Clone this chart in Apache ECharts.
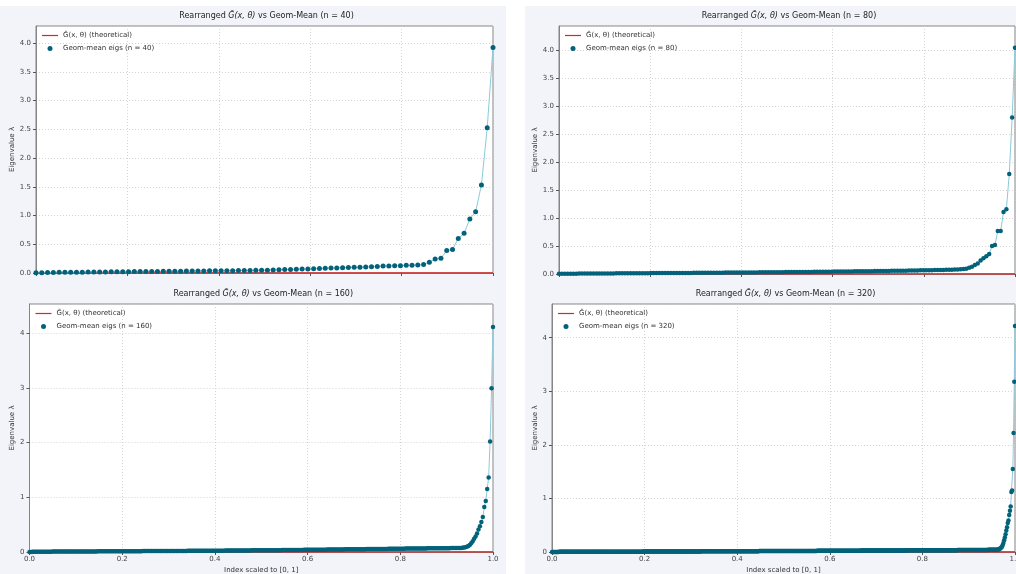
<!DOCTYPE html>
<html><head><meta charset="utf-8">
<script src="https://cdn.jsdelivr.net/npm/echarts@6/dist/echarts.min.js"></script>
<style>
html,body{margin:0;padding:0;background:#ffffff;}
#wrap{position:relative;width:1016px;height:574px;overflow:hidden;}
.bg{position:absolute;background:#f3f4fa;}
#c{position:absolute;left:0;top:0;width:1016px;height:574px;}
</style>
</head><body>
<div id="wrap">
<div class="bg" style="left:0;top:6px;width:506px;height:568px;"></div>
<div class="bg" style="left:525px;top:6px;width:491px;height:568px;"></div>
<div id="c"></div>
</div>
<script>
// ---------------- DATA ----------------
const xTickLabels = ['0.0', '0.2', '0.4', '0.6', '0.8', '1.0'];
const nValues = [40, 80, 160, 320];
const theoreticalX = [0, 1];
const theoreticalY = [0, 0];

const eig40 = [
0.004,0.006,0.008,0.009,0.011,0.012,0.013,0.014,0.015,0.016,
0.017,0.018,0.019,0.020,0.021,0.022,0.023,0.024,0.025,0.026,
0.027,0.028,0.029,0.030,0.031,0.032,0.033,0.034,0.035,0.036,
0.037,0.038,0.039,0.040,0.041,0.042,0.043,0.044,0.046,0.048,
0.050,0.053,0.056,0.059,0.062,0.065,0.068,0.071,0.074,0.078,
0.082,0.086,0.089,0.092,0.095,0.098,0.101,0.104,0.108,0.114,
0.120,0.120,0.127,0.127,0.134,0.134,0.140,0.150,0.186,0.244,
0.255,0.390,0.410,0.600,0.690,0.940,1.068,1.533,2.530,3.925
];

const eig80 = [
0.003,0.004,0.004,0.005,0.005,0.006,0.006,0.007,0.007,0.008,0.008,0.008,0.009,0.009,0.010,0.010,0.010,0.011,0.011,0.011,
0.012,0.012,0.012,0.013,0.013,0.013,0.014,0.014,0.014,0.015,0.015,0.015,0.016,0.016,0.016,0.017,0.017,0.017,0.018,0.018,
0.018,0.019,0.019,0.019,0.020,0.020,0.020,0.021,0.021,0.021,0.022,0.022,0.022,0.023,0.023,0.024,0.024,0.024,0.025,0.025,
0.025,0.026,0.026,0.027,0.027,0.027,0.028,0.028,0.029,0.029,0.030,0.030,0.031,0.031,0.031,0.032,0.032,0.033,0.033,0.034,
0.034,0.035,0.035,0.036,0.036,0.037,0.037,0.038,0.038,0.039,0.039,0.040,0.040,0.041,0.041,0.042,0.043,0.043,0.044,0.044,
0.045,0.046,0.046,0.047,0.048,0.048,0.049,0.050,0.050,0.051,0.052,0.052,0.053,0.054,0.055,0.055,0.056,0.057,0.058,0.059,
0.059,0.060,0.061,0.062,0.063,0.064,0.065,0.066,0.067,0.068,0.069,0.070,0.071,0.072,0.073,0.074,0.075,0.077,0.079,0.081,
0.085,0.090,0.095,0.110,0.130,0.160,0.190,0.240,0.280,0.320,0.360,0.500,0.520,0.770,0.770,1.110,1.160,1.790,2.800,4.050
];

const eig160 = [
0.002,0.002,0.003,0.003,0.003,0.004,0.004,0.004,0.005,0.005,0.005,0.005,0.006,0.006,0.006,0.006,0.007,0.007,0.007,0.007,
0.007,0.008,0.008,0.008,0.008,0.008,0.009,0.009,0.009,0.009,0.009,0.009,0.010,0.010,0.010,0.010,0.010,0.010,0.010,0.011,
0.011,0.011,0.011,0.011,0.011,0.011,0.011,0.012,0.012,0.012,0.012,0.012,0.012,0.012,0.012,0.012,0.013,0.013,0.013,0.013,
0.013,0.013,0.013,0.013,0.014,0.014,0.014,0.014,0.014,0.014,0.014,0.015,0.015,0.015,0.015,0.015,0.015,0.015,0.016,0.016,
0.016,0.016,0.016,0.016,0.016,0.017,0.017,0.017,0.017,0.017,0.017,0.018,0.018,0.018,0.018,0.018,0.018,0.019,0.019,0.019,
0.019,0.019,0.019,0.020,0.020,0.020,0.020,0.020,0.020,0.021,0.021,0.021,0.021,0.021,0.022,0.022,0.022,0.022,0.022,0.022,
0.023,0.023,0.023,0.023,0.023,0.024,0.024,0.024,0.024,0.024,0.025,0.025,0.025,0.025,0.025,0.026,0.026,0.026,0.026,0.026,
0.027,0.027,0.027,0.027,0.028,0.028,0.028,0.028,0.028,0.029,0.029,0.029,0.029,0.030,0.030,0.030,0.030,0.030,0.031,0.031,
0.031,0.031,0.032,0.032,0.032,0.032,0.033,0.033,0.033,0.033,0.034,0.034,0.034,0.034,0.035,0.035,0.035,0.035,0.036,0.036,
0.036,0.036,0.037,0.037,0.037,0.038,0.038,0.038,0.038,0.039,0.039,0.039,0.040,0.040,0.040,0.040,0.041,0.041,0.041,0.042,
0.042,0.042,0.043,0.043,0.043,0.044,0.044,0.044,0.045,0.045,0.045,0.046,0.046,0.046,0.047,0.047,0.047,0.048,0.048,0.048,
0.049,0.049,0.049,0.050,0.050,0.050,0.051,0.051,0.051,0.052,0.052,0.052,0.053,0.053,0.053,0.054,0.054,0.054,0.055,0.055,
0.055,0.056,0.056,0.056,0.057,0.057,0.057,0.058,0.058,0.058,0.059,0.059,0.059,0.060,0.060,0.060,0.061,0.061,0.061,0.062,
0.062,0.062,0.063,0.063,0.063,0.064,0.064,0.064,0.065,0.065,0.065,0.066,0.066,0.066,0.067,0.067,0.067,0.067,0.068,0.068,
0.068,0.068,0.069,0.069,0.069,0.069,0.070,0.070,0.070,0.070,0.071,0.071,0.071,0.072,0.072,0.073,0.074,0.075,0.078,0.081,
0.085,0.095,0.110,0.130,0.160,0.195,0.240,0.285,0.340,0.410,0.470,0.550,0.640,0.820,0.930,1.150,1.360,2.020,2.990,4.110
];

const eig320 = [
0.002,0.002,0.002,0.002,0.002,0.002,0.002,0.002,0.002,0.002,0.003,0.003,0.003,0.003,0.003,0.003,0.003,0.003,0.003,0.003,
0.003,0.003,0.003,0.003,0.003,0.003,0.003,0.003,0.004,0.004,0.004,0.004,0.004,0.004,0.004,0.004,0.004,0.004,0.004,0.004,
0.004,0.004,0.004,0.004,0.004,0.004,0.004,0.004,0.004,0.004,0.004,0.004,0.004,0.004,0.004,0.004,0.004,0.004,0.004,0.004,
0.004,0.004,0.004,0.004,0.004,0.004,0.005,0.005,0.005,0.005,0.005,0.005,0.005,0.005,0.005,0.005,0.005,0.005,0.005,0.005,
0.005,0.005,0.005,0.005,0.005,0.005,0.006,0.006,0.006,0.006,0.006,0.006,0.006,0.006,0.006,0.006,0.006,0.006,0.006,0.006,
0.006,0.006,0.006,0.006,0.006,0.006,0.007,0.007,0.007,0.007,0.007,0.007,0.007,0.007,0.007,0.007,0.007,0.007,0.007,0.007,
0.007,0.007,0.007,0.007,0.007,0.007,0.008,0.008,0.008,0.008,0.008,0.008,0.008,0.008,0.008,0.008,0.008,0.008,0.008,0.008,
0.008,0.008,0.008,0.008,0.008,0.008,0.009,0.009,0.009,0.009,0.009,0.009,0.009,0.009,0.009,0.009,0.009,0.009,0.009,0.009,
0.009,0.009,0.009,0.009,0.009,0.009,0.010,0.010,0.010,0.010,0.010,0.010,0.010,0.010,0.010,0.010,0.010,0.010,0.010,0.010,
0.010,0.010,0.010,0.010,0.010,0.010,0.011,0.011,0.011,0.011,0.011,0.011,0.011,0.011,0.011,0.011,0.011,0.011,0.011,0.011,
0.011,0.011,0.011,0.011,0.011,0.011,0.012,0.012,0.012,0.012,0.012,0.012,0.012,0.012,0.012,0.012,0.012,0.012,0.012,0.012,
0.012,0.012,0.012,0.012,0.012,0.012,0.013,0.013,0.013,0.013,0.013,0.013,0.013,0.013,0.013,0.013,0.013,0.013,0.013,0.013,
0.014,0.014,0.014,0.014,0.014,0.014,0.014,0.014,0.014,0.014,0.015,0.015,0.015,0.015,0.015,0.015,0.015,0.015,0.015,0.015,
0.015,0.015,0.015,0.015,0.015,0.015,0.016,0.016,0.016,0.016,0.016,0.016,0.016,0.016,0.016,0.016,0.016,0.016,0.016,0.016,
0.016,0.016,0.016,0.016,0.016,0.016,0.017,0.017,0.017,0.017,0.017,0.017,0.017,0.017,0.017,0.017,0.017,0.017,0.017,0.017,
0.017,0.017,0.017,0.017,0.017,0.017,0.018,0.018,0.018,0.018,0.018,0.018,0.018,0.018,0.018,0.018,0.018,0.018,0.018,0.018,
0.019,0.019,0.019,0.019,0.019,0.019,0.019,0.019,0.019,0.019,0.020,0.020,0.020,0.020,0.020,0.020,0.020,0.020,0.020,0.020,
0.020,0.020,0.020,0.020,0.020,0.020,0.021,0.021,0.021,0.021,0.021,0.021,0.021,0.021,0.021,0.021,0.021,0.021,0.021,0.021,
0.021,0.021,0.021,0.021,0.021,0.021,0.022,0.022,0.022,0.022,0.022,0.022,0.022,0.022,0.022,0.022,0.022,0.022,0.022,0.022,
0.023,0.023,0.023,0.023,0.023,0.023,0.023,0.023,0.023,0.023,0.024,0.024,0.024,0.024,0.024,0.024,0.024,0.024,0.024,0.024,
0.024,0.024,0.024,0.024,0.024,0.024,0.025,0.025,0.025,0.025,0.025,0.025,0.025,0.025,0.025,0.025,0.025,0.025,0.025,0.025,
0.025,0.025,0.025,0.025,0.025,0.025,0.026,0.026,0.026,0.026,0.026,0.026,0.026,0.026,0.026,0.026,0.026,0.026,0.026,0.026,
0.027,0.027,0.027,0.027,0.027,0.027,0.027,0.027,0.027,0.027,0.028,0.028,0.028,0.028,0.028,0.028,0.028,0.028,0.028,0.028,
0.028,0.028,0.028,0.028,0.028,0.028,0.029,0.029,0.029,0.029,0.029,0.029,0.029,0.029,0.029,0.029,0.029,0.029,0.029,0.029,
0.030,0.030,0.030,0.030,0.030,0.030,0.030,0.030,0.030,0.030,0.031,0.031,0.031,0.031,0.031,0.031,0.031,0.031,0.031,0.031,
0.031,0.031,0.031,0.031,0.031,0.031,0.032,0.032,0.032,0.032,0.032,0.032,0.032,0.032,0.032,0.032,0.032,0.032,0.032,0.032,
0.033,0.033,0.033,0.033,0.033,0.033,0.033,0.033,0.033,0.033,0.034,0.034,0.034,0.034,0.034,0.034,0.034,0.034,0.034,0.034,
0.034,0.034,0.034,0.034,0.034,0.034,0.035,0.035,0.035,0.035,0.035,0.035,0.035,0.035,0.035,0.035,0.035,0.035,0.035,0.035,
0.036,0.036,0.036,0.036,0.036,0.036,0.036,0.036,0.036,0.036,0.037,0.037,0.037,0.037,0.037,0.037,0.037,0.037,0.037,0.037,
0.037,0.037,0.037,0.037,0.037,0.037,0.038,0.038,0.038,0.038,0.038,0.038,0.038,0.038,0.039,0.039,0.039,0.039,0.039,0.039,
0.039,0.039,0.040,0.040,0.040,0.040,0.041,0.041,0.041,0.041,0.042,0.042,0.042,0.042,0.043,0.045,0.048,0.052,0.060,0.070,
0.085,0.100,0.130,0.170,0.220,0.270,0.330,0.400,0.460,0.540,0.590,0.690,0.770,0.850,1.120,1.150,1.550,2.220,3.180,4.220
];

const eigenSets = [eig40, eig80, eig160, eig320];

// ---------------- LAYOUT / STYLE ----------------
const layout = [
  { left: 36,  top: 26,  width: 457, height: 247, yMax: 4.3,  yStep: 0.5, digits: 1, showX: false, nameGap: 20, dot: 5 },
  { left: 559, top: 26,  width: 456, height: 248, yMax: 4.44, yStep: 0.5, digits: 1, showX: false, nameGap: 20, dot: 4.5 },
  { left: 29.5,top: 304, width: 463.5, height: 248, yMax: 4.53, yStep: 1, digits: 0, showX: true, nameGap: 14, dot: 4.5 },
  { left: 552, top: 304, width: 463, height: 248, yMax: 4.63, yStep: 1, digits: 0, showX: true, nameGap: 13, dot: 4.5 }
];

const FONT = 'DejaVu Sans';
const theoName = 'G\u0303(x, \u03b8) (theoretical)';
const lineIcon = 'path://M0,0 L40,0 L40,3 L0,3 Z';
const grids = [], xAxes = [], yAxes = [], series = [], titles = [], legends = [];
const gridLine = { show: true, lineStyle: { color: '#c9c9c9', type: [1, 2], width: 0.8 } };

layout.forEach((L, k) => {
  const eig = eigenSets[k];
  const N = eig.length;
  const pts = eig.map((v, i) => [i / (N - 1), v]);
  const dotName = 'Geom-mean eigs (n = ' + nValues[k] + ')';

  grids.push({
    left: L.left, top: L.top, width: L.width, height: L.height,
    show: true, backgroundColor: '#ffffff', borderColor: '#858585', borderWidth: 1,
    containLabel: false, outerBoundsMode: 'none'
  });
  xAxes.push({
    gridIndex: k, type: 'value', min: 0, max: 1, interval: 0.2,
    axisLine: { show: true, onZero: false, lineStyle: { color: '#858585', width: 1 } },
    axisTick: { show: true, length: 3, lineStyle: { color: '#555' } },
    axisLabel: { show: L.showX, fontSize: 7, color: '#444', margin: 4, fontFamily: FONT,
      formatter: v => xTickLabels[Math.round(v / 0.2)] || '' },
    splitLine: gridLine,
    name: L.showX ? 'Index scaled to [0, 1]' : '',
    nameLocation: 'middle', nameGap: 15,
    nameTextStyle: { fontSize: 7, color: '#333', fontFamily: FONT }
  });
  yAxes.push({
    gridIndex: k, type: 'value', min: 0, max: L.yMax, interval: L.yStep,
    axisLine: { show: true, lineStyle: { color: '#858585', width: 1 } },
    axisTick: { show: true, length: 3, lineStyle: { color: '#555' } },
    axisLabel: { fontSize: 7, color: '#444', margin: 5, fontFamily: FONT, showMaxLabel: false,
      formatter: v => v.toFixed(L.digits) },
    splitLine: gridLine,
    name: 'Eigenvalue \u03bb', nameLocation: 'middle', nameGap: L.nameGap, nameRotate: 90,
    nameTextStyle: { fontSize: 7, color: '#333', fontFamily: FONT }
  });

  series.push({
    name: theoName, type: 'line', xAxisIndex: k, yAxisIndex: k,
    data: theoreticalX.map((x, i) => [x, theoreticalY[i]]),
    showSymbol: false, symbol: 'none', silent: true, z: 3,
    lineStyle: { color: '#d62728', width: 1.3 }, itemStyle: { color: '#d62728' }
  });
  series.push({
    name: 'conn' + k, type: 'line', xAxisIndex: k, yAxisIndex: k,
    data: pts, showSymbol: false, symbol: 'none', silent: true, z: 4,
    lineStyle: { color: '#8ccadb', width: 1 }
  });
  series.push({
    name: dotName, type: 'scatter', xAxisIndex: k, yAxisIndex: k,
    data: pts, symbol: 'circle', symbolSize: L.dot, silent: true, z: 5,
    itemStyle: { color: '#03627a', opacity: 1 }
  });

  titles.push({
    text: '{n|Rearranged }{i|G\u0303(x, \u03b8)}{n| vs Geom-Mean (n = ' + nValues[k] + ')}',
    left: L.left + L.width / 2 - 3, top: L.top - 19, textAlign: 'center',
    textStyle: { fontSize: 8, color: '#222', fontWeight: 'normal', fontFamily: FONT,
      rich: { n: { fontSize: 8, color: '#222', fontFamily: FONT },
              i: { fontSize: 8, color: '#222', fontFamily: FONT, fontStyle: 'italic' } } }
  });
  legends.push({
    orient: 'vertical', left: L.left + 6, top: L.top + 5, padding: 0,
    itemWidth: 16, itemHeight: 5, itemGap: 4, selectedMode: false,
    data: [
      { name: theoName, icon: lineIcon, itemStyle: { color: '#d62728' } },
      { name: dotName, icon: 'circle', itemStyle: { color: '#03627a' } }
    ],
    textStyle: { fontSize: 7, color: '#333', fontFamily: FONT, lineHeight: 9 }
  });
});

const chart = echarts.init(document.getElementById('c'), null, { renderer: 'canvas' });
chart.setOption({
  backgroundColor: 'transparent',
  animation: false,
  title: titles,
  legend: legends,
  grid: grids,
  xAxis: xAxes,
  yAxis: yAxes,
  series: series
});
</script>
</body></html>
